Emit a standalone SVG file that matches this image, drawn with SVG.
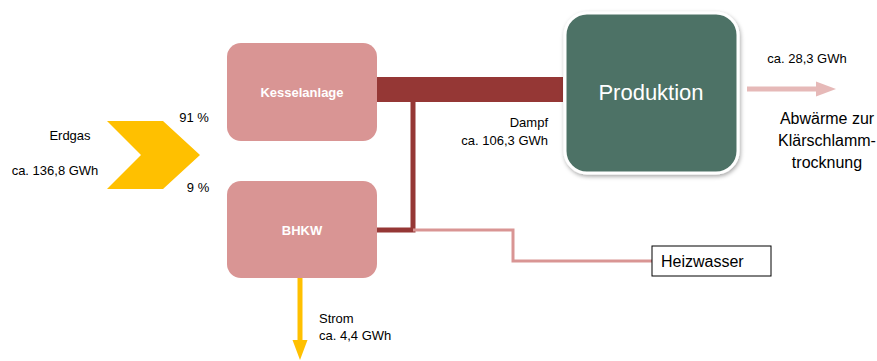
<svg xmlns="http://www.w3.org/2000/svg" width="877" height="361" viewBox="0 0 877 361">
<defs>
<marker id="arrY" markerWidth="4" markerHeight="4" refX="2" refY="2" orient="auto" markerUnits="strokeWidth"><path d="M0,0.5 L4,2 L0,3.5 z" fill="#ffc000"/></marker>
<marker id="arrP" markerWidth="4" markerHeight="4" refX="2" refY="2" orient="auto" markerUnits="strokeWidth"><path d="M0,0.5 L4,2 L0,3.5 z" fill="#e6b9b8"/></marker>
<filter id="sh" x="-10%" y="-10%" width="130%" height="130%"><feDropShadow dx="1" dy="2" stdDeviation="2" flood-color="#000" flood-opacity="0.35"/></filter>
</defs>
<style>
text{font-family:"Liberation Sans",Arial,sans-serif;fill:#000}
.s{font-size:13px}
.m{font-size:16px}
.w{fill:#fff;font-weight:bold;font-size:13px}
.box{fill:#d99594}
</style>
<rect width="877" height="361" fill="#fff"/>
<g id="connectors">
<rect x="377" y="77" width="186" height="25" fill="#953735"/>
<polyline points="377,230 413,230 413,100" fill="none" stroke="#953735" stroke-width="5"/>
<polyline points="413,230 513,230 513,261 652,261" fill="none" stroke="#d99594" stroke-width="3"/>
<line x1="300" y1="278" x2="300" y2="350" stroke="#ffc000" stroke-width="5" marker-end="url(#arrY)"/>
<line x1="747" y1="89" x2="826" y2="89" stroke="#e6b9b8" stroke-width="5" marker-end="url(#arrP)"/>
</g>
<g id="erdgas">
<polygon points="107,121 163,121 200,155 163,189 107,189 141,155" fill="#ffc000"/>
<text class="s" x="70" y="140" text-anchor="middle">Erdgas</text>
<text class="s" x="55" y="175" text-anchor="middle">ca. 136,8 GWh</text>
<text class="s" x="194" y="122" text-anchor="middle">91 %</text>
<text class="s" x="198" y="192" text-anchor="middle">9 %</text>
</g>
<g id="kesselanlage">
<rect class="box" x="227" y="43" width="150" height="98" rx="14"/>
<text class="w" x="302" y="97" text-anchor="middle">Kesselanlage</text>
</g>
<g id="bhkw">
<rect class="box" x="227" y="181" width="150" height="97" rx="14"/>
<text class="w" x="302" y="235" text-anchor="middle">BHKW</text>
</g>
<g id="produktion">
<rect x="565" y="13" width="173" height="160" rx="22" fill="#4e7266" stroke="#fff" stroke-width="3" filter="url(#sh)"/>
<text x="651" y="100" text-anchor="middle" font-size="22" style="fill:#fff">Produktion</text>
</g>
<g id="heizwasser">
<rect x="652" y="246" width="119" height="30" fill="#fff" stroke="#000" stroke-width="1"/>
<text class="m" x="661" y="267">Heizwasser</text>
</g>
<g id="labels">
<text class="s" x="548" y="127" text-anchor="end">Dampf</text>
<text class="s" x="548" y="145" text-anchor="end">ca. 106,3 GWh</text>
<text class="s" x="319" y="323">Strom</text>
<text class="s" x="319" y="340">ca. 4,4 GWh</text>
<text class="s" x="807" y="63" text-anchor="middle">ca. 28,3 GWh</text>
<text class="m" x="827" y="124" text-anchor="middle">Abwärme zur</text>
<text class="m" x="827" y="146" text-anchor="middle">Klärschlamm-</text>
<text class="m" x="827" y="168" text-anchor="middle">trocknung</text>
</g>
</svg>
